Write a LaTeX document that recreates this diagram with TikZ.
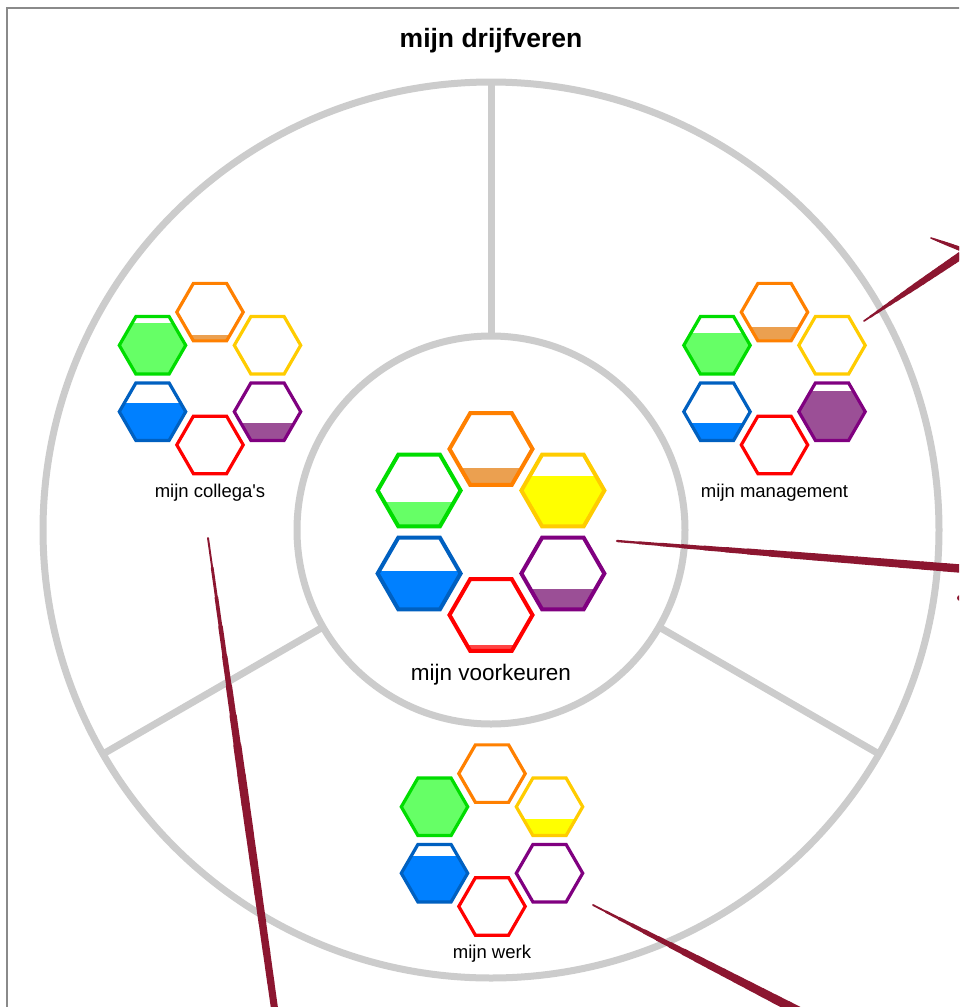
\documentclass[tikz,border=0pt]{standalone}
\usepackage{fontspec}
\setmainfont{Liberation Sans}[Ligatures=TeXOff]
\usetikzlibrary{calc}
\definecolor{ringgray}{HTML}{CCCCCC}
\definecolor{bordergray}{HTML}{8A8A8A}
\definecolor{brushred}{HTML}{8C1630}
\definecolor{hexorange}{HTML}{FF8000}
\definecolor{hexyellow}{HTML}{FFCC00}
\definecolor{hexpurple}{HTML}{800080}
\definecolor{hexred}{HTML}{FF0000}
\definecolor{hexblue}{HTML}{0060C0}
\definecolor{hexgreen}{HTML}{00DD00}
\definecolor{fillorange}{HTML}{EBA050}
\definecolor{fillyellow}{HTML}{FFFF00}
\definecolor{fillpurple}{HTML}{9B4F96}
\definecolor{fillred}{HTML}{FF4444}
\definecolor{fillblue}{HTML}{0080FF}
\definecolor{fillgreen}{HTML}{66FF66}
\tikzset{
  ringline/.style={draw=ringgray, line width=7pt},
  titletext/.style={font=\bfseries\fontsize{26.5}{30}\selectfont, anchor=base, inner sep=0pt},
  biglabel/.style={font=\fontsize{22.5}{26}\selectfont, anchor=base, inner sep=0pt},
  smalllabel/.style={font=\fontsize{18.5}{22}\selectfont, anchor=base, inner sep=0pt},
  brushline/.style={draw=brushred, line cap=round}
}
% one hexagon cell: cx cy R lw stroke fill fraction
\newcommand\hexcell[7]{%
  \pgfmathsetmacro\hx{#1}\pgfmathsetmacro\hy{#2}%
  \pgfmathsetmacro\hR{#3}\pgfmathsetmacro\hh{0.8660254*\hR}%
  \pgfmathsetmacro\hlw{#4}%
  \pgfmathsetmacro\hlev{\hy+\hh+\hlw/2-(2*\hh+\hlw)*#7}%
  \begin{scope}
    \clip (\hx+\hR,\hy) -- (\hx+\hR/2,\hy-\hh) -- (\hx-\hR/2,\hy-\hh) -- (\hx-\hR,\hy) -- (\hx-\hR/2,\hy+\hh) -- (\hx+\hR/2,\hy+\hh) -- cycle;
    \fill[#6] (\hx-\hR,\hy+\hh+\hlw) rectangle (\hx+\hR,\hlev);
  \end{scope}
  \draw[#5, line width=\hlw pt, line join=miter] (\hx+\hR,\hy) -- (\hx+\hR/2,\hy-\hh) -- (\hx-\hR/2,\hy-\hh) -- (\hx-\hR,\hy) -- (\hx-\hR/2,\hy+\hh) -- (\hx+\hR/2,\hy+\hh) -- cycle;
}
% cluster: cx cy scale, fractions orange yellow purple red blue green
\newcommand\hexcluster[9]{%
  \pgfmathsetmacro\clring{83*#3}%
  \pgfmathsetmacro\clR{41.5*#3}%
  \pgfmathsetmacro\clw{4*#3}%
  \pgfmathsetmacro\cldx{0.8660254*\clring}%
  \pgfmathsetmacro\cldy{0.5*\clring}%
  \hexcell{#1}{#2-\clring}{\clR}{\clw}{hexorange}{fillorange}{#4}
  \hexcell{#1+\cldx}{#2-\cldy}{\clR}{\clw}{hexyellow}{fillyellow}{#5}
  \hexcell{#1+\cldx}{#2+\cldy}{\clR}{\clw}{hexpurple}{fillpurple}{#6}
  \hexcell{#1}{#2+\clring}{\clR}{\clw}{hexred}{fillred}{#7}
  \hexcell{#1-\cldx}{#2+\cldy}{\clR}{\clw}{hexblue}{fillblue}{#8}
  \hexcell{#1-\cldx}{#2-\cldy}{\clR}{\clw}{hexgreen}{fillgreen}{#9}
}
% tapered brush stroke between named coordinates #1 and #2:
% width grows from #3 to #4 over the first half, then to #5 at the end
\newcommand\brush[5]{%
  \foreach \bi in {0,...,15}{%
    \pgfmathsetmacro\bta{\bi/16}%
    \pgfmathsetmacro\btb{(\bi+1)/16}%
    \pgfmathsetmacro\btm{(\bi+0.5)/16}%
    \pgfmathsetmacro\bw{\btm<0.5 ? #3+(#4-#3)*\btm/0.5 : #4+(#5-#4)*(\btm-0.5)/0.5}%
    \draw[brushline, line width=\bw pt] ($(#1)!\bta!(#2)$) -- ($(#1)!\btb!(#2)$);
  }%
}
\begin{document}
\begin{tikzpicture}[x=1pt,y=-1pt]
\useasboundingbox (0,0) rectangle (959,1007);
\clip (0,0) rectangle (959,1007);
\fill[white] (0,0) rectangle (959,1007);
\draw[bordergray, line width=1.5pt] (7,8) rectangle (990,1040);

\node[titletext] (title) at (491,47) {mijn drijfveren};

% rings and dividers
\coordinate (c) at (491,530);
\draw[ringline] (c) circle[radius=448];
\draw[ringline] (c) circle[radius=194];
\coordinate (dti) at (491,336);
\coordinate (dto) at (491,82);
\coordinate (dli) at (323,627);
\coordinate (dlo) at (103,754);
\coordinate (dri) at (659,627);
\coordinate (dro) at (879,754);
\draw[ringline] (dti) -- (dto);
\draw[ringline] (dli) -- (dlo);
\draw[ringline] (dri) -- (dro);

% hexagon clusters
\hexcluster{491}{532}{1}{0.25}{0.69}{0.30}{0.10}{0.53}{0.35}
\hexcluster{210}{378.5}{0.8}{0.12}{0}{0.31}{0}{0.64}{0.87}
\hexcluster{774.5}{378.5}{0.8}{0.25}{0}{0.84}{0}{0.31}{0.70}
\hexcluster{492}{840}{0.8}{0}{0.30}{0}{0}{0.79}{1}

% labels
\node[biglabel] (lvoor) at (491,680) {mijn voorkeuren};
\node[smalllabel] (lcoll) at (210,497) {mijn collega's};
\node[smalllabel] (lman) at (774.5,497) {mijn management};
\node[smalllabel] (lwerk) at (492,958) {mijn werk};

% brush strokes
\coordinate (ba) at (864,321);
\coordinate (bb) at (966,252);
\brush{ba}{bb}{1.5}{6}{8}
\coordinate (bc) at (931,238);
\coordinate (bd) at (966,251);
\brush{bc}{bd}{1.5}{3.5}{4.5}
\coordinate (be) at (617,541);
\coordinate (bf) at (966,569);
\brush{be}{bf}{2}{7}{8.5}
\coordinate (bg) at (960,598);
\fill[brushred] (bg) circle[radius=3];
\coordinate (bh) at (208,538);
\coordinate (bi) at (275,1012);
\brush{bh}{bi}{1.5}{8.5}{7}
\coordinate (bj) at (593,905);
\coordinate (bk) at (800,1012);
\brush{bj}{bk}{1.5}{7}{9.5}
\end{tikzpicture}
\end{document}
